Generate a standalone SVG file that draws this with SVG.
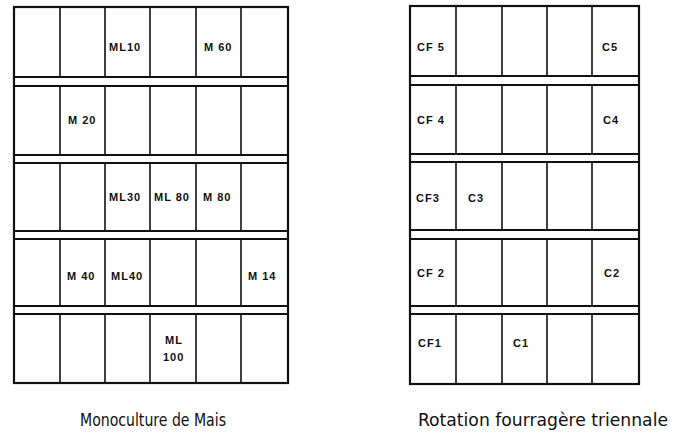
<svg xmlns="http://www.w3.org/2000/svg" width="682" height="437" viewBox="0 0 682 437">
  <style>
    .frame { fill: none; stroke: #111; stroke-width: 2.2; }
    .rule { stroke: #111; stroke-width: 1.8; fill: none; }
    .col { stroke: #111; stroke-width: 1.6; }
    .lbl { font-family: "Liberation Sans", Arial, sans-serif; font-weight: bold; font-size: 11px; fill: #111; letter-spacing: 1px; }
    .cap { font-family: "DejaVu Sans Condensed", "DejaVu Sans", sans-serif; font-size: 17px; fill: #111; }
  </style>
  <rect width="682" height="437" fill="#fff"/>

  <!-- Field 1: maize monoculture -->
  <g id="field-mais">
    <rect class="frame" x="14" y="7" width="274" height="376"/>
    <path class="rule" d="M14 77H288M14 86H288M14 155H288M14 163H288M14 231H288M14 239H288M14 306H288M14 314H288"/>
    <path class="rule" d="M14 383H288" stroke-width="3"/>
    <g id="mais-row1">
      <path class="col" d="M60 7V77M105 7V77M150 7V77M196 7V77M241 7V77"/>
      <text class="lbl" x="109" y="51">ML10</text>
      <text class="lbl" x="204" y="51">M 60</text>
    </g>
    <g id="mais-row2">
      <path class="col" d="M60 86V155M105 86V155M150 86V155M196 86V155M241 86V155"/>
      <text class="lbl" x="68" y="124">M 20</text>
    </g>
    <g id="mais-row3">
      <path class="col" d="M60 163V231M105 163V231M150 163V231M196 163V231M241 163V231"/>
      <text class="lbl" x="109" y="201">ML30</text>
      <text class="lbl" x="154" y="201">ML 80</text>
      <text class="lbl" x="203" y="201">M 80</text>
    </g>
    <g id="mais-row4">
      <path class="col" d="M60 239V306M105 239V306M150 239V306M196 239V306M241 239V306"/>
      <text class="lbl" x="67" y="280">M 40</text>
      <text class="lbl" x="111" y="280">ML40</text>
      <text class="lbl" x="248" y="280">M 14</text>
    </g>
    <g id="mais-row5">
      <path class="col" d="M60 314V383M105 314V383M150 314V383M196 314V383M241 314V383"/>
      <text class="lbl" x="165" y="344">ML</text>
      <text class="lbl" x="163" y="361">100</text>
    </g>
  </g>

  <!-- Field 2: three-year forage rotation -->
  <g id="field-rotation">
    <rect class="frame" x="410" y="6" width="229" height="378"/>
    <path class="rule" d="M410 76H639M410 85H639M410 154H639M410 162H639M410 230H639M410 239H639M410 306H639M410 314H639"/>
    <path class="rule" d="M410 384H639" stroke-width="3"/>
    <g id="rot-row1">
      <path class="col" d="M456 6V76M502 6V76M547 6V76M592 6V76"/>
      <text class="lbl" x="417" y="51">CF 5</text>
      <text class="lbl" x="602" y="51">C5</text>
    </g>
    <g id="rot-row2">
      <path class="col" d="M456 85V154M502 85V154M547 85V154M592 85V154"/>
      <text class="lbl" x="417" y="124">CF 4</text>
      <text class="lbl" x="603" y="124">C4</text>
    </g>
    <g id="rot-row3">
      <path class="col" d="M456 162V230M502 162V230M547 162V230M592 162V230"/>
      <text class="lbl" x="416" y="202">CF3</text>
      <text class="lbl" x="468" y="202">C3</text>
    </g>
    <g id="rot-row4">
      <path class="col" d="M456 239V306M502 239V306M547 239V306M592 239V306"/>
      <text class="lbl" x="417" y="277">CF 2</text>
      <text class="lbl" x="604" y="277">C2</text>
    </g>
    <g id="rot-row5">
      <path class="col" d="M456 314V384M502 314V384M547 314V384M592 314V384"/>
      <text class="lbl" x="418" y="347">CF1</text>
      <text class="lbl" x="513" y="347">C1</text>
    </g>
  </g>

  <text class="cap" x="80" y="426" textLength="146" lengthAdjust="spacingAndGlyphs">Monoculture de Mais</text>
  <text class="cap" x="418" y="426" textLength="250" lengthAdjust="spacingAndGlyphs">Rotation fourragère triennale</text>
</svg>
